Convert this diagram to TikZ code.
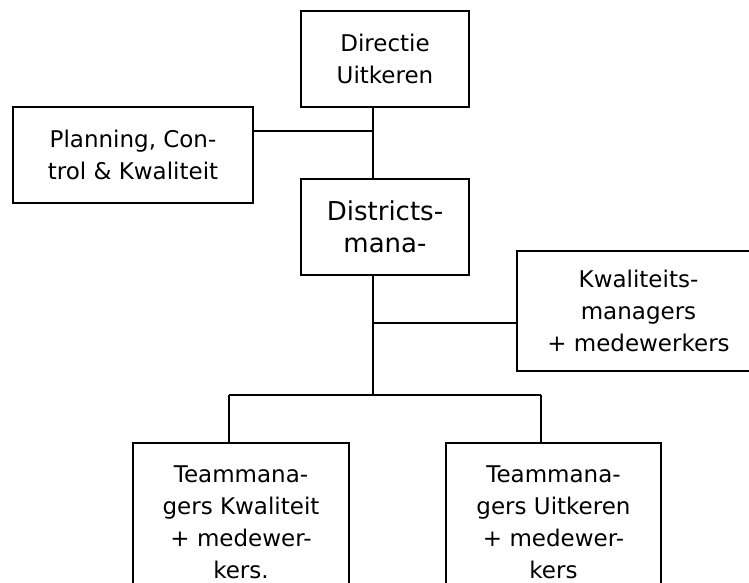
\documentclass[tikz,border=0pt]{standalone}
\usepackage{fontspec}
\setmainfont{DejaVu Sans}
\usepackage{tikz}
\usetikzlibrary{positioning, calc}

\tikzset{
  orgbox/.style={draw, line width=1.3pt, inner sep=0pt, align=center, font=\fontsize{23}{32}\selectfont},
  link/.style={line width=1.3pt}
}

\begin{document}
\begin{tikzpicture}[x=1pt, y=-1pt]
  \useasboundingbox (0,0) rectangle (749,583);

  \coordinate (spine) at (373,0);
  \coordinate (jplan) at (373,131);
  \coordinate (jkwal) at (373,323);
  \coordinate (bus) at (373,395);
  \coordinate (busL) at (229,395);
  \coordinate (busR) at (541,395);

  \node[orgbox, minimum width=168, minimum height=96] (dir) at (385,59) {Directie\\Uitkeren};
  \node[orgbox, minimum width=240, minimum height=96] (plan) at (133,155) {Planning, Con-\\trol \& Kwaliteit};
  \node[orgbox, minimum width=168, minimum height=96, font=\fontsize{26}{32}\selectfont] (dis) at (385,227) {Districts-\\mana-};
  \node[orgbox, minimum width=243, minimum height=120] (kwal) at (638.5,311) {Kwaliteits-\\managers\\+ medewerkers};
  \node[orgbox, minimum width=216, minimum height=158] (teamK) at (241,522) {Teammana-\\gers Kwaliteit\\+ medewer-\\kers.};
  \node[orgbox, minimum width=215, minimum height=158] (teamU) at (553.5,522) {Teammana-\\gers Uitkeren\\+ medewer-\\kers};

  \draw[link] (dir.south -| spine) -- (dis.north -| spine);
  \draw[link] (plan.east |- jplan) -- (jplan);
  \draw[link] (dis.south -| spine) -- (bus);
  \draw[link] (jkwal) -- (kwal.west |- jkwal);
  \draw[link] (busL) -- (busR);
  \draw[link] (busL) -- (busL |- teamK.north);
  \draw[link] (busR) -- (busR |- teamU.north);
\end{tikzpicture}
\end{document}
